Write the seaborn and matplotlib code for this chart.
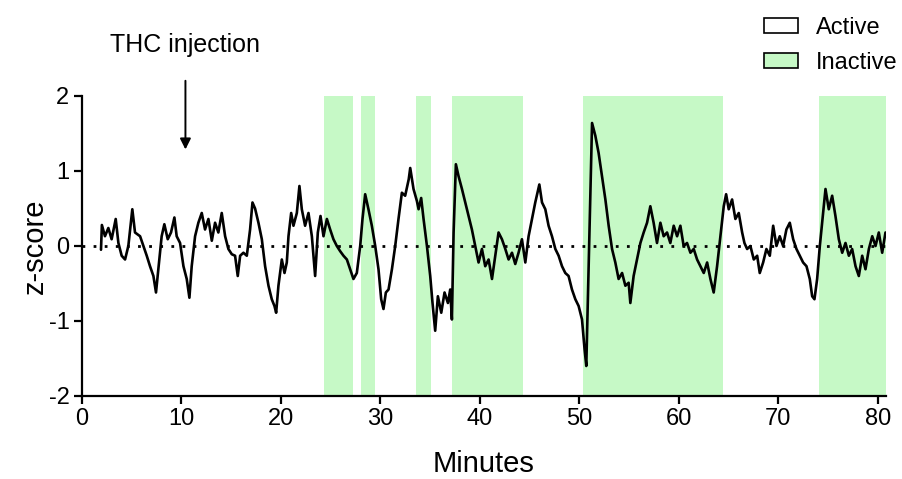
import matplotlib
matplotlib.use("Agg")
import matplotlib.pyplot as plt
import pandas as pd
import seaborn as sns
from matplotlib.patches import Patch

# trace (minutes, z-score)
minutes = [
    1.91, 2.0, 2.31, 2.65, 2.98, 3.39, 3.66, 3.99, 4.33, 4.66, 5.06, 5.33, 5.84, 6.17,
    6.51, 6.84, 7.18, 7.44, 7.68, 8.01, 8.28, 8.62, 8.95, 9.29, 9.52, 9.86, 10.2, 10.53,
    10.8, 11.03, 11.37, 11.7, 12.04, 12.37, 12.71, 13.05, 13.38, 13.71, 14.05, 14.39,
    14.72, 15.06, 15.39, 15.66, 15.9, 16.23, 16.57, 16.9, 17.14, 17.4, 17.74, 18.08,
    18.41, 18.75, 19.08, 19.35, 19.52, 19.75, 20.09, 20.36, 20.59, 20.76, 21.03, 21.26,
    21.6, 21.86, 22.1, 22.43, 22.77, 23.11, 23.44, 23.71, 23.98, 24.28, 24.62, 24.95,
    25.28, 25.62, 25.96, 26.29, 26.63, 26.96, 27.29, 27.63, 27.97, 28.2, 28.47, 28.8,
    29.14, 29.48, 29.81, 30.08, 30.31, 30.55, 30.82, 31.16, 31.49, 31.82, 32.16, 32.49,
    32.85, 33.0, 33.33, 33.67, 33.84, 34.1, 34.34, 34.68, 35.01, 35.24, 35.51, 35.78,
    36.12, 36.45, 36.79, 37.02, 37.19, 37.36, 37.59, 37.86, 38.2, 38.53, 38.86, 39.2,
    39.54, 39.87, 40.21, 40.54, 40.88, 41.22, 41.55, 41.88, 42.22, 42.56, 42.89, 43.23,
    43.56, 43.89, 44.23, 44.57, 44.9, 45.24, 45.57, 45.98, 46.25, 46.58, 46.91, 47.25,
    47.59, 47.92, 48.26, 48.59, 48.92, 49.26, 49.6, 49.93, 50.27, 50.53, 50.7, 51.28,
    51.61, 51.94, 52.28, 52.62, 52.95, 53.29, 53.62, 53.95, 54.3, 54.63, 54.96, 55.13,
    55.46, 55.8, 56.14, 56.47, 56.81, 57.14, 57.47, 57.81, 58.15, 58.48, 58.82, 59.15,
    59.49, 59.83, 60.16, 60.49, 60.83, 61.17, 61.5, 61.84, 62.17, 62.51, 62.85, 63.18,
    63.51, 63.85, 64.19, 64.52, 64.76, 65.02, 65.36, 65.69, 66.03, 66.37, 66.6, 66.87,
    67.2, 67.54, 67.88, 68.14, 68.48, 68.81, 69.15, 69.49, 69.82, 70.15, 70.49, 70.82,
    71.16, 71.5, 71.83, 72.17, 72.5, 72.84, 73.17, 73.41, 73.64, 73.91, 74.18, 74.45,
    74.75, 75.08, 75.42, 75.75, 76.09, 76.43, 76.76, 77.1, 77.43, 77.77, 78.1, 78.44,
    78.77, 79.11, 79.45, 79.78, 80.11, 80.45, 80.78,
]
zscore = [
    -0.05, 0.28, 0.13, 0.24, 0.09, 0.36, 0.04, -0.13, -0.18, 0.0, 0.49, 0.18, 0.13, 0.0,
    -0.13, -0.27, -0.4, -0.62, -0.31, 0.13, 0.29, 0.09, 0.18, 0.38, 0.13, 0.04, -0.27, -0.44,
    -0.69, -0.27, 0.13, 0.31, 0.44, 0.22, 0.36, 0.07, 0.31, 0.18, 0.44, 0.13,
    -0.04, -0.11, -0.13, -0.4, -0.13, -0.09, -0.13, 0.22, 0.58, 0.5, 0.31, 0.09,
    -0.27, -0.53, -0.71, -0.8, -0.89, -0.53, -0.18, -0.36, -0.22, 0.13, 0.44, 0.27,
    0.44, 0.8, 0.49, 0.27, 0.44, 0.13, -0.4, 0.18, 0.4, 0.13, 0.36, 0.22,
    0.09, 0.0, -0.07, -0.13, -0.18, -0.31, -0.44, -0.36, 0.0, 0.36, 0.69, 0.49,
    0.27, 0.0, -0.31, -0.71, -0.84, -0.62, -0.58, -0.31, 0.0, 0.36, 0.71, 0.67,
    0.89, 1.04, 0.76, 0.6, 0.49, 0.64, 0.36, 0.0, -0.4, -0.76, -1.13, -0.67,
    -0.89, -0.62, -0.76, -0.58, -0.98, 0.18, 1.09, 0.93, 0.76, 0.58, 0.4, 0.22,
    0.0, -0.22, -0.04, -0.27, -0.18, -0.44, -0.13, 0.18, 0.09, -0.04, -0.18, -0.09,
    -0.24, -0.09, 0.09, -0.22, 0.13, 0.36, 0.58, 0.82, 0.58, 0.49, 0.27, 0.13,
    -0.04, -0.13, -0.27, -0.36, -0.4, -0.58, -0.71, -0.8, -0.98, -1.38, -1.6, 1.64,
    1.47, 1.24, 0.93, 0.62, 0.27, -0.04, -0.22, -0.44, -0.36, -0.53, -0.49, -0.76,
    -0.4, -0.18, 0.04, 0.18, 0.31, 0.53, 0.31, 0.04, 0.31, 0.13, 0.18, 0.04,
    0.27, 0.13, 0.27, 0.0, 0.04, -0.09, -0.04, -0.18, -0.27, -0.36, -0.22, -0.44,
    -0.62, -0.27, 0.13, 0.53, 0.69, 0.49, 0.62, 0.36, 0.44, 0.18, 0.04, -0.04,
    0.0, -0.18, -0.13, -0.36, -0.22, -0.04, -0.13, 0.27, 0.0, 0.13, 0.0, 0.22,
    0.31, 0.09, -0.04, -0.13, -0.22, -0.27, -0.44, -0.67, -0.71, -0.44, 0.0, 0.36,
    0.76, 0.49, 0.67, 0.4, 0.09, -0.09, 0.04, -0.13, -0.04, -0.27, -0.4, -0.13,
    -0.31, -0.04, 0.13, 0.0, 0.18, -0.09, 0.18,
]

# inactive periods (minutes)
inactive_start = [24.3, 28.1, 33.6, 37.2, 50.4, 74.1]
inactive_end = [27.2, 29.5, 35.1, 44.3, 64.4, 80.8]

x_ticks = [0, 10, 20, 30, 40, 50, 60, 70, 80]
y_ticks = [-2, -1, 0, 1, 2]
injection_time = 10.4

green = "#c6f9c6"

sns.set_style("ticks")
plt.rcParams["font.family"] = ["Liberation Sans", "DejaVu Sans"]
plt.rcParams["axes.unicode_minus"] = False
plt.rcParams["text.color"] = "black"
plt.rcParams["axes.labelcolor"] = "black"
plt.rcParams["xtick.color"] = "black"
plt.rcParams["ytick.color"] = "black"

fig = plt.figure(figsize=(9.02, 4.79), dpi=100)
ax = fig.add_axes([0.0909, 0.1733, 0.891, 0.6263])

for start, end in zip(inactive_start, inactive_end):
    ax.axvspan(start, end, color=green, lw=0, zorder=0)

# dotted baseline
ax.axhline(0, color="black", lw=2, ls=(0, (1, 3)), zorder=1)

df = pd.DataFrame({"Minutes": minutes, "z-score": zscore})
sns.lineplot(data=df, x="Minutes", y="z-score", ax=ax, color="black",
             lw=1.9, estimator=None, sort=False, zorder=2)

ax.set_xlim(0, 80.8)
ax.set_ylim(-2, 2)
ax.set_xticks(x_ticks)
ax.set_yticks(y_ticks)
ax.tick_params(direction="out", length=6, width=1.6, labelsize=17, pad=3)
for side in ["left", "bottom"]:
    ax.spines[side].set_linewidth(1.6)
    ax.spines[side].set_color("black")
sns.despine(ax=ax)

ax.set_xlabel("Minutes", fontsize=21, labelpad=14)
ax.set_ylabel("z-score", fontsize=21, labelpad=0)

# injection marker
ax.annotate("", xy=(injection_time, 1.25), xytext=(injection_time, 2.24),
            arrowprops=dict(arrowstyle="-|>", color="black", lw=1.4, mutation_scale=16),
            annotation_clip=False)
ax.text(injection_time, 2.68, "THC injection", ha="center", va="center", fontsize=18)

handles = [Patch(facecolor="white", edgecolor="black", lw=1.2, label="Active"),
           Patch(facecolor=green, edgecolor="black", lw=1.2, label="Inactive")]
fig.legend(handles=handles, loc="upper left", bbox_to_anchor=(752 / 902, 1 - 5 / 479),
           frameon=False, fontsize=17, borderpad=0, handlelength=1.45, handleheight=0.6,
           handletextpad=0.75, labelspacing=0.55)

fig.savefig("out.png", dpi=100)
